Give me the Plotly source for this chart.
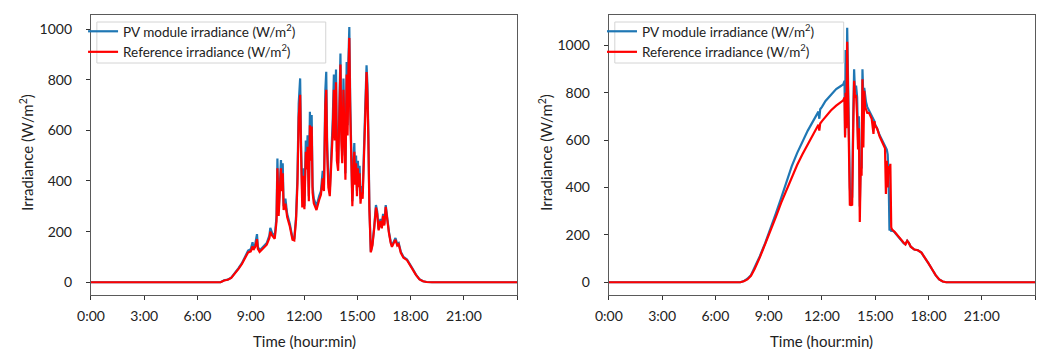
import plotly.graph_objects as go

# ---------------- data (hours, W/m^2) ----------------
t_left = [0, 7.3, 7.5, 7.7, 7.9, 8.1, 8.3, 8.5, 8.7, 8.85, 9.0, 9.1, 9.15, 9.25, 9.35, 9.4, 9.5, 9.7, 9.9,
          10.05, 10.1, 10.2, 10.35, 10.45, 10.5, 10.57, 10.62, 10.7, 10.75, 10.8, 10.85, 10.95, 11.05, 11.2,
          11.35, 11.45, 11.55, 11.63, 11.7, 11.78, 11.83, 11.9, 11.95, 12.02, 12.1, 12.15, 12.2, 12.27, 12.33,
          12.38, 12.43, 12.48, 12.55, 12.7, 12.85, 12.95, 13.05, 13.12, 13.2, 13.25, 13.3, 13.37, 13.45, 13.55,
          13.62, 13.68, 13.73, 13.8, 13.85, 13.92, 13.98, 14.05, 14.1, 14.15, 14.22, 14.28, 14.33, 14.4, 14.45,
          14.5, 14.55, 14.6, 14.66, 14.72, 14.78, 14.83, 14.88, 14.93, 14.98, 15.03, 15.08, 15.13, 15.18, 15.23,
          15.3, 15.38, 15.45, 15.52, 15.57, 15.62, 15.68, 15.76, 15.85, 15.95, 16.05, 16.12, 16.2, 16.3, 16.38,
          16.45, 16.52, 16.6, 16.68, 16.78, 16.88, 16.95, 17.05, 17.15, 17.25, 17.33, 17.45, 17.6, 17.8, 17.95,
          18.1, 18.3, 18.5, 18.7, 18.9, 19.2, 24]
pv_left = [0, 0, 8, 10, 18, 35, 55, 75, 105, 125, 130, 158, 135, 150, 190, 140, 125, 140, 155,
           185, 215, 195, 180, 260, 489, 280, 360, 483, 390, 470, 300, 330, 270, 230,
           175, 170, 260, 420, 706, 805, 560, 330, 450, 300, 560, 480, 580, 340, 673,
           520, 660, 380, 330, 300, 340, 360, 440, 380, 760, 831, 560, 400, 360, 520,
           650, 820, 600, 840, 520, 470, 700, 903, 600, 500, 805, 640, 430, 870, 620,
           880, 1008, 720, 560, 320, 460, 550, 410, 500, 360, 480, 400, 460, 330, 380,
           350, 600, 700, 857, 780, 600, 300, 121, 150, 220, 305, 280, 210, 250, 220,
           270, 230, 305, 250, 200, 160, 145, 160, 175, 150, 155, 120, 100, 90, 70,
           55, 30, 12, 4, 1, 0, 0]
ref_left = [0, 0, 7, 10, 17, 33, 52, 72, 100, 118, 122, 142, 128, 140, 170, 132, 120, 134, 148,
            175, 200, 185, 172, 240, 450, 262, 330, 450, 360, 430, 285, 310, 258, 220,
            168, 165, 245, 390, 650, 740, 520, 295, 420, 288, 515, 445, 535, 320, 620,
            480, 615, 355, 312, 285, 325, 345, 410, 360, 700, 760, 520, 375, 340, 480,
            600, 760, 560, 790, 480, 440, 650, 860, 560, 470, 760, 600, 405, 820, 580,
            830, 965, 680, 520, 300, 430, 515, 385, 470, 340, 450, 375, 430, 310, 355,
            330, 560, 660, 830, 740, 570, 285, 118, 145, 212, 295, 270, 205, 242, 213,
            262, 224, 298, 242, 195, 155, 140, 155, 168, 145, 150, 116, 97, 87, 68,
            53, 29, 11, 4, 1, 0, 0]

t_right = [0, 7.4, 7.6, 7.8, 8.0, 8.2, 8.5, 8.8, 9.1, 9.4, 9.7, 10.0, 10.3, 10.6, 10.9, 11.2, 11.5, 11.8,
           11.85, 11.9, 12.0, 12.2, 12.5, 12.8, 13.0, 13.2, 13.27, 13.3, 13.33, 13.37, 13.42, 13.47, 13.52,
           13.57, 13.63, 13.7, 13.76, 13.81, 13.86, 13.92, 13.98, 14.03, 14.08, 14.13, 14.18, 14.23, 14.28,
           14.33, 14.38, 14.43, 14.48, 14.55, 14.65, 14.8, 14.9, 14.95, 15.0, 15.1, 15.25, 15.4, 15.55, 15.6,
           15.65, 15.7, 15.75, 15.8, 15.85, 15.9, 15.95, 16.1, 16.3, 16.5, 16.6, 16.7, 16.8, 16.9, 17.0, 17.2,
           17.4, 17.6, 17.8, 18.0, 18.2, 18.4, 18.6, 18.8, 19.0, 24]
pv_right = [0, 0, 5, 15, 30, 60, 110, 165, 225, 290, 355, 425, 490, 545, 595, 640, 680, 720,
            690, 730, 740, 765, 790, 815, 825, 835, 850, 620, 980, 700, 1074, 820, 500,
            400, 330, 360, 700, 899, 800, 830, 780, 600, 700, 320, 500, 480, 899,
            780, 820, 780, 760, 740, 725, 700, 690, 680, 665, 650, 620, 595, 570, 565,
            560, 540, 457, 219, 225, 215, 220, 210, 190, 175, 165, 160, 175, 165, 150, 138,
            135, 125, 105, 80, 55, 30, 12, 3, 0, 0]
ref_right = [0, 0, 4, 12, 27, 55, 105, 160, 215, 275, 335, 390, 445, 495, 540, 580, 620, 665,
             640, 670, 680, 700, 725, 745, 755, 768, 780, 611, 800, 650, 1015, 700, 492,
             324, 330, 324, 650, 850, 780, 790, 700, 560, 650, 254, 485, 450, 857,
             569, 808, 740, 730, 715, 715, 690, 626, 680, 660, 650, 615, 590, 565, 373,
             513, 400, 490, 470, 500, 232, 222, 212, 192, 177, 167, 160, 175, 165, 150, 138,
             135, 125, 105, 80, 55, 30, 12, 3, 0, 0]

x_tickvals = [0, 3, 6, 9, 12, 15, 18, 21, 24]
x_ticktext = ["0:00", "3:00", "6:00", "9:00", "12:00", "15:00", "18:00", "21:00", ""]
y_tickvals = [0, 200, 400, 600, 800, 1000]

name_pv = "PV module irradiance (W/m<sup>2</sup>)"
name_ref = "Reference irradiance (W/m<sup>2</sup>)"

BLUE = "#1f77b4"
RED = "#ff0000"
FONT = "Lato"
W, H = 1040, 349

fig = go.Figure()
fig.add_trace(go.Scatter(x=t_left, y=pv_left, mode="lines", name=name_pv,
                         line=dict(color=BLUE, width=2.2), xaxis="x", yaxis="y", legend="legend"))
fig.add_trace(go.Scatter(x=t_left, y=ref_left, mode="lines", name=name_ref,
                         line=dict(color=RED, width=2.2), xaxis="x", yaxis="y", legend="legend"))
fig.add_trace(go.Scatter(x=t_right, y=pv_right, mode="lines", name=name_pv,
                         line=dict(color=BLUE, width=2.2), xaxis="x2", yaxis="y2", legend="legend2"))
fig.add_trace(go.Scatter(x=t_right, y=ref_right, mode="lines", name=name_ref,
                         line=dict(color=RED, width=2.2), xaxis="x2", yaxis="y2", legend="legend2"))

ydom = [1 - 295 / H, 1 - 15 / H]
axis_common = dict(showgrid=False, zeroline=False, showline=True, mirror=True,
                   linecolor="#5a5a5a", linewidth=1.3, ticks="outside", ticklen=4,
                   tickcolor="#333", tickfont=dict(family=FONT, size=14, color="#222"))

fig.update_layout(
    width=W, height=H, margin=dict(l=0, r=0, t=0, b=0),
    paper_bgcolor="white", plot_bgcolor="white",
    font=dict(family=FONT, size=13, color="#222"),
    xaxis=dict(domain=[78 / W, 510 / W], range=[0, 24], tickvals=x_tickvals, ticktext=x_ticktext,
               anchor="y", ticklabelstandoff=4, **axis_common),
    yaxis=dict(domain=ydom, range=[-50.4, 1055.4], tickvals=y_tickvals, anchor="x",
               ticklabelstandoff=11, **axis_common),
    xaxis2=dict(domain=[603 / W, 1035 / W], range=[0, 24], tickvals=x_tickvals, ticktext=x_ticktext,
                anchor="y2", ticklabelstandoff=4, **axis_common),
    yaxis2=dict(domain=ydom, range=[-53.7, 1127.7], tickvals=y_tickvals, anchor="x2",
                ticklabelstandoff=11, **axis_common),
    legend=dict(x=70 / W, y=1 - 16 / H, xanchor="left", yanchor="top",
                bgcolor="rgba(0,0,0,0)", borderwidth=0,
                font=dict(family=FONT, size=13.5, color="#222"), tracegroupgap=0),
    legend2=dict(x=596 / W, y=1 - 16 / H, xanchor="left", yanchor="top",
                 bgcolor="rgba(0,0,0,0)", borderwidth=0,
                 font=dict(family=FONT, size=13.5, color="#222"), tracegroupgap=0),
    showlegend=True,
)

# legend frames
for x0, x1 in [(84, 316), (609, 841)]:
    fig.add_shape(type="rect", xref="paper", yref="paper", layer="above",
                  x0=x0 / W, x1=x1 / W, y0=1 - 63 / H, y1=1 - 22 / H,
                  line=dict(color="#d4d4d4", width=1), fillcolor="rgba(255,255,255,0.8)")

annots = [
    dict(text="Time (hour:min)", x=(78 + 510) / 2 / W, y=1 - 341 / H),
    dict(text="Time (hour:min)", x=(603 + 1035) / 2 / W, y=1 - 341 / H),
    dict(text="Irradiance (W/m<sup>2</sup>)", x=12 / W, y=1 - 152 / H, textangle=-90),
    dict(text="Irradiance (W/m<sup>2</sup>)", x=538 / W, y=1 - 152 / H, textangle=-90),
]
for a in annots:
    fig.add_annotation(xref="paper", yref="paper", showarrow=False, xanchor="center", yanchor="middle",
                       font=dict(family=FONT, size=15, color="#222"), **a)

fig.write_html("out.html")
